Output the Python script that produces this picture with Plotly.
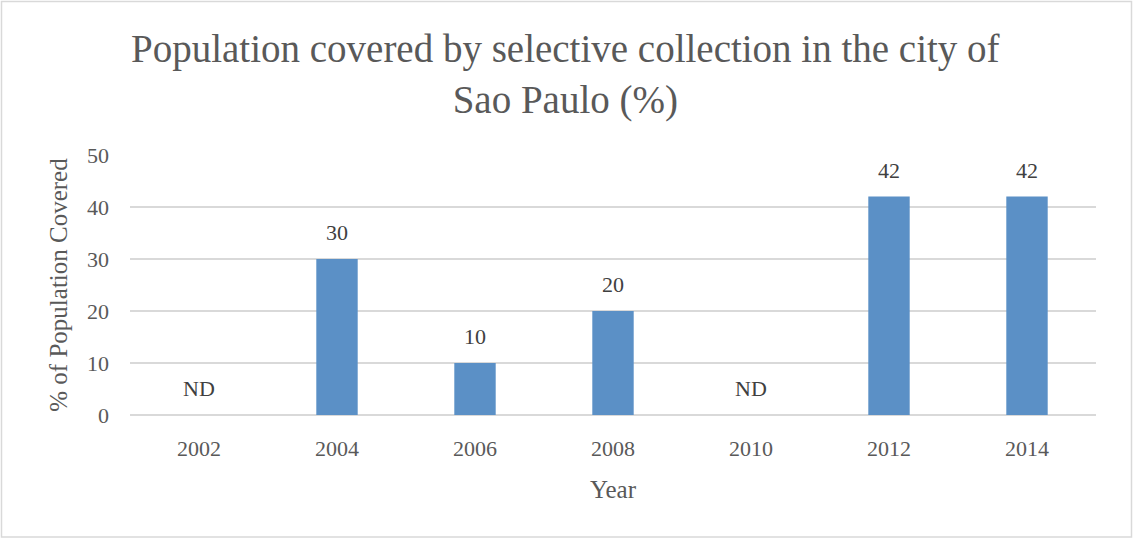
import plotly.graph_objects as go

# Survey years and share of population covered (None = no data)
years = ["2002", "2004", "2006", "2008", "2010", "2012", "2014"]
coverage = [None, 30, 10, 20, None, 42, 42]
y_ticks = [0, 10, 20, 30, 40, 50]

labels = ["ND" if v is None else str(v) for v in coverage]

FONT = "Liberation Serif"
TEXT_GREY = "#595959"
LABEL_GREY = "#404040"
GRID = "#D9D9D9"
BAR = "#5B90C6"

W, H = 1134, 539
ML, MR, MT, MB = 130, 38, 155, 124
PW, PH = W - ML - MR, H - MT - MB

def px_to_paper_x(px):
    return (px - ML) / PW

def px_to_paper_y(py):
    return (H - MB - py) / PH

fig = go.Figure()
fig.add_trace(go.Bar(
    x=list(range(len(years))),
    y=coverage,
    marker=dict(color=BAR, line=dict(width=0)),
    width=0.3,
    customdata=years,
    hovertemplate="%{customdata}: %{y}<extra></extra>",
))

# value labels above each bar (ND where no data)
for i, (v, lab) in enumerate(zip(coverage, labels)):
    fig.add_annotation(
        x=i, y=0 if v is None else v, xref="x", yref="y",
        text=lab, showarrow=False,
        yanchor="bottom", yshift=12,
        font=dict(family=FONT, size=22, color=LABEL_GREY),
    )

# chart title
fig.add_annotation(
    xref="paper", yref="paper",
    x=px_to_paper_x(565), y=px_to_paper_y(25),
    xanchor="center", yanchor="top",
    text="Population covered by selective collection in the city of<br>Sao Paulo (%)",
    showarrow=False, align="center",
    font=dict(family=FONT, size=39, color=TEXT_GREY),
)

# chart frame
fig.add_shape(
    type="rect", xref="paper", yref="paper",
    x0=px_to_paper_x(1.5), x1=px_to_paper_x(1131.5),
    y0=px_to_paper_y(537), y1=px_to_paper_y(1.5),
    line=dict(color=GRID, width=1.5), fillcolor="rgba(0,0,0,0)",
    layer="below",
)

fig.update_layout(
    width=W, height=H,
    margin=dict(l=ML, r=MR, t=MT, b=MB),
    paper_bgcolor="white", plot_bgcolor="white",
    showlegend=False,
    xaxis=dict(
        range=[-0.5, len(years) - 0.5],
        tickmode="array",
        tickvals=list(range(len(years))),
        ticktext=years,
        showgrid=False, showline=False, zeroline=False,
        ticks="", ticklabelstandoff=18,
        tickfont=dict(family=FONT, size=22, color=TEXT_GREY),
        title=dict(text="Year", standoff=20,
                   font=dict(family=FONT, size=25, color=TEXT_GREY)),
    ),
    yaxis=dict(
        range=[0, 50],
        tickvals=y_ticks,
        showgrid=True, gridcolor=GRID, gridwidth=1.5,
        zeroline=True, zerolinecolor=GRID, zerolinewidth=1.5,
        showline=False, ticks="", ticklabelstandoff=20,
        tickfont=dict(family=FONT, size=22, color=TEXT_GREY),
        title=dict(text="% of Population Covered", standoff=12,
                   font=dict(family=FONT, size=25, color=TEXT_GREY)),
    ),
)

fig.write_html("out.html")
